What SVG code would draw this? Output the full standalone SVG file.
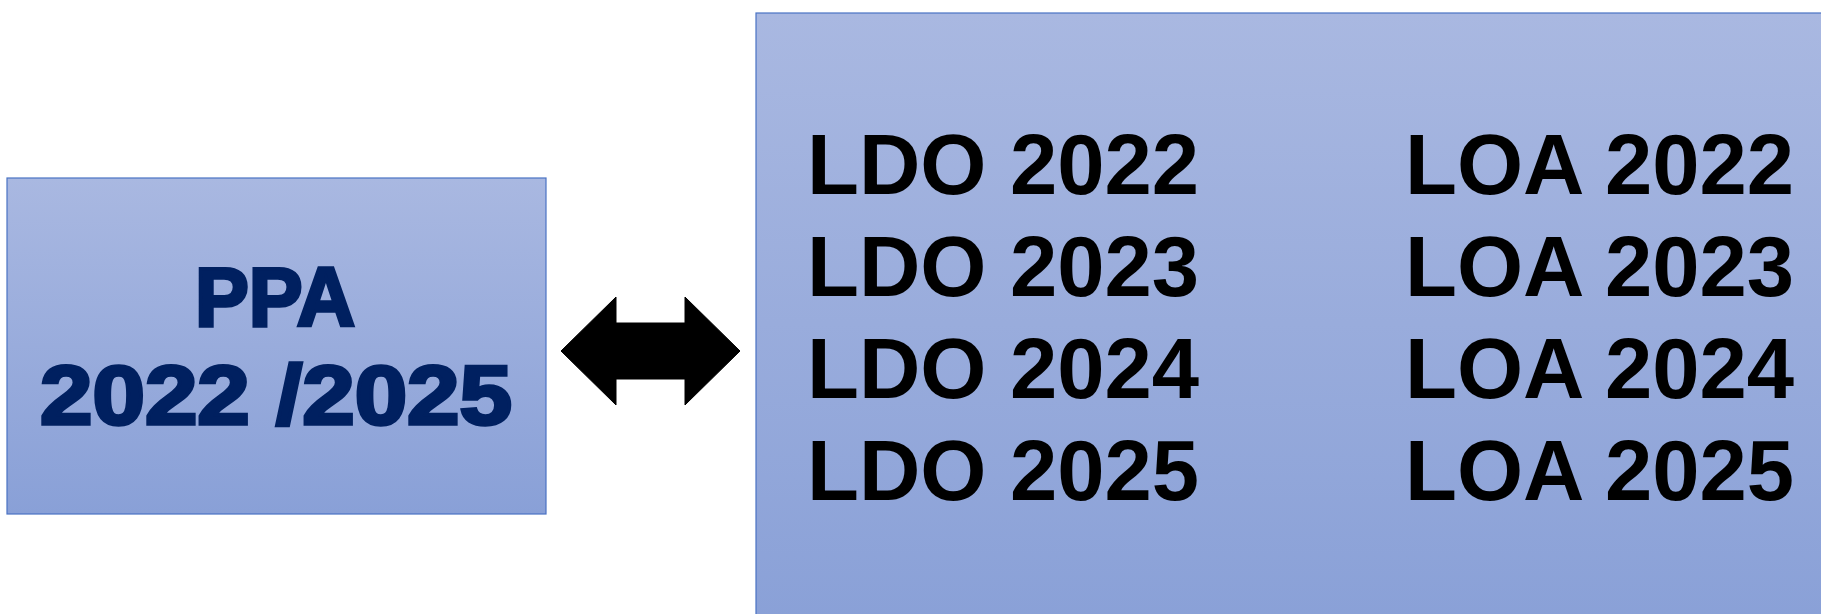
<svg xmlns="http://www.w3.org/2000/svg" width="1821" height="614" viewBox="0 0 1821 614">
<defs>
<linearGradient id="g" x1="0" y1="0" x2="0" y2="1">
<stop offset="0" stop-color="#a9b8e1"/>
<stop offset="1" stop-color="#89a0d7"/>
</linearGradient>
<style>
.box{fill:url(#g);stroke:#4a72c4;stroke-width:1.2}
.ppa{font-family:"Liberation Sans",Arial,sans-serif;font-weight:bold;font-size:84px;fill:#002060;stroke:#002060;stroke-width:3.5;stroke-linejoin:miter;text-anchor:middle}
.lst{font-family:"Liberation Sans",Arial,sans-serif;font-weight:bold;font-size:85px;fill:#000}
</style>
</defs>
<rect width="1821" height="614" fill="#fff"/>
<g id="ppa">
<rect class="box" x="7" y="178" width="539" height="336"/>
<text class="ppa" x="275" y="326" textLength="160" lengthAdjust="spacingAndGlyphs">PPA</text>
<text class="ppa" x="276" y="424" textLength="472" lengthAdjust="spacingAndGlyphs">2022 /2025</text>
</g>
<g id="connectors">
<polygon points="561,351 616,297 616,323 685,323 685,297 740,351 685,405 685,379 616,379 616,405" fill="#000" stroke="#000" stroke-width="1" stroke-linejoin="miter"/>
</g>
<g id="plans">
<rect class="box" x="756" y="13" width="1080" height="620"/>
<text class="lst" x="807" y="194">LDO 2022</text>
<text class="lst" x="807" y="296">LDO 2023</text>
<text class="lst" x="807" y="398">LDO 2024</text>
<text class="lst" x="807" y="500">LDO 2025</text>
<text class="lst" x="1405" y="194">LOA 2022</text>
<text class="lst" x="1405" y="296">LOA 2023</text>
<text class="lst" x="1405" y="398">LOA 2024</text>
<text class="lst" x="1405" y="500">LOA 2025</text>
</g>
</svg>
